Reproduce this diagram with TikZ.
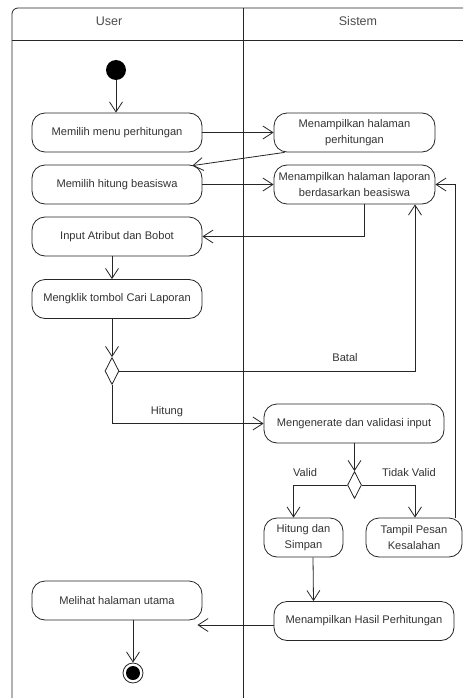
\documentclass[tikz,border=0pt]{standalone}
\usepackage{fontspec}
\setmainfont{Liberation Sans}
\usetikzlibrary{arrows.meta,shapes.geometric,calc}
\begin{document}
\begin{tikzpicture}[x=1pt,y=-1pt,
  every node/.style={text=black!80},
  act/.style={draw=black!85, line width=0.8pt, rounded corners=13pt, minimum height=39pt,
    inner sep=0pt, align=center, font={\fontsize{11.1}{16}\selectfont}},
  dec/.style={draw=black!85, line width=0.8pt, diamond, minimum width=14pt, minimum height=27pt, inner sep=0pt, aspect=0.5},
  flow/.style={draw=black!85, line width=0.8pt, -{Straight Barb[length=10pt,width=13pt]}},
  lbl/.style={font={\fontsize{11.1}{13}\selectfont}},
  lane/.style={draw=black!85, line width=0.8pt},
  hdr/.style={font={\fontsize{12.5}{15}\selectfont}, text=black!70}]
\useasboundingbox (0,0) rectangle (463,698);
\fill[white] (0,0) rectangle (463,698);
% frame
\draw[lane, rounded corners=6pt] (463,8) -- (12,8) -- (12,698);
\draw[lane] (12,40) -- (463,40);
\draw[lane] (243,8) -- (243,698);
\node[hdr] (hu) at (109,21) {User};
\node[hdr] (hs) at (358,21) {Sistem};
% nodes
\node[circle, fill=black, minimum size=20pt, inner sep=0pt] (start) at (116,70) {};
\node[act, minimum width=170pt] (b1) at (117,132.5) {Memilih menu perhitungan};
\node[act, minimum width=161pt] (b2) at (354.5,132.5) {Menampilkan halaman\\perhitungan};
\node[act, minimum width=170pt] (b3) at (117,184.5) {Memilih hitung beasiswa};
\node[act, minimum width=161pt] (b4) at (354.5,184.5) {Menampilkan halaman laporan\\berdasarkan beasiswa};
\node[act, minimum width=170pt] (b5) at (117,236.5) {Input Atribut dan Bobot};
\node[act, minimum width=170pt] (b6) at (117,299) {Mengklik tombol Cari Laporan};
\node[dec] (d1) at (112,371) {};
\node[act, minimum width=180pt] (b7) at (354,423.5) {Mengenerate dan validasi input};
\node[dec] (d2) at (354.5,485) {};
\node[act, minimum width=79pt] (b8) at (303.5,537.5) {Hitung dan\\Simpan};
\node[act, minimum width=96pt] (b9) at (414,537.5) {Tampil Pesan\\Kesalahan};
\node[act, minimum width=180pt] (b10) at (364,621) {Menampilkan Hasil Perhitungan};
\node[act, minimum width=170pt] (b11) at (117,600.5) {Melihat halaman utama};
\node[circle, draw=black!85, line width=0.8pt, minimum size=20pt, inner sep=0pt] (endo) at (133,673) {};
\node[circle, fill=black, minimum size=14pt, inner sep=0pt] (endi) at (133,673) {};
% connectors
\draw[flow] (start) -- (start |- b1.north);
\draw[flow] (b1.east) -- (b2.west);
\draw[flow] ([xshift=11pt]b2.south west) -- ([xshift=-10pt,yshift=-1pt]b3.north east);
\draw[flow] (b3.east) -- (b4.west);
\draw[flow] ([xshift=9.5pt]b4.south) |- (b5.east);
\draw[flow] ([xshift=-5pt]b5.south) -- ([xshift=-5pt]b6.north);
\draw[flow] (b6.south -| d1) -- (d1.north);
\draw[flow] (d1.east) -| ([xshift=60.5pt]b4.south);
\node[lbl] (lbatal) at (345,358) {Batal};
\draw[flow] (d1.south) |- (b7.west);
\node[lbl] (lhit) at (167,412) {Hitung};
\draw[flow] (b7.south -| d2) -- (d2.north);
\draw[flow] (d2.west) -| ([xshift=-10pt]b8.north);
\node[lbl] (lval) at (305,473) {Valid};
\draw[flow] (d2.east) -| ([xshift=1pt]b9.north);
\node[lbl] (ltv) at (409,473) {Tidak Valid};
\draw[flow] ([xshift=41pt]b9.north) |- (b4.east);
\draw[flow] ([xshift=9.5pt]b8.south) -- ([xshift=-50.5pt]b10.north);
\draw[flow] ([yshift=-4pt]b10.west) -- ([xshift=-5pt,yshift=-4pt]b10.west -| b11.east);
\draw[flow] ([xshift=16pt]b11.south) -- (endo.north);
\end{tikzpicture}
\end{document}
